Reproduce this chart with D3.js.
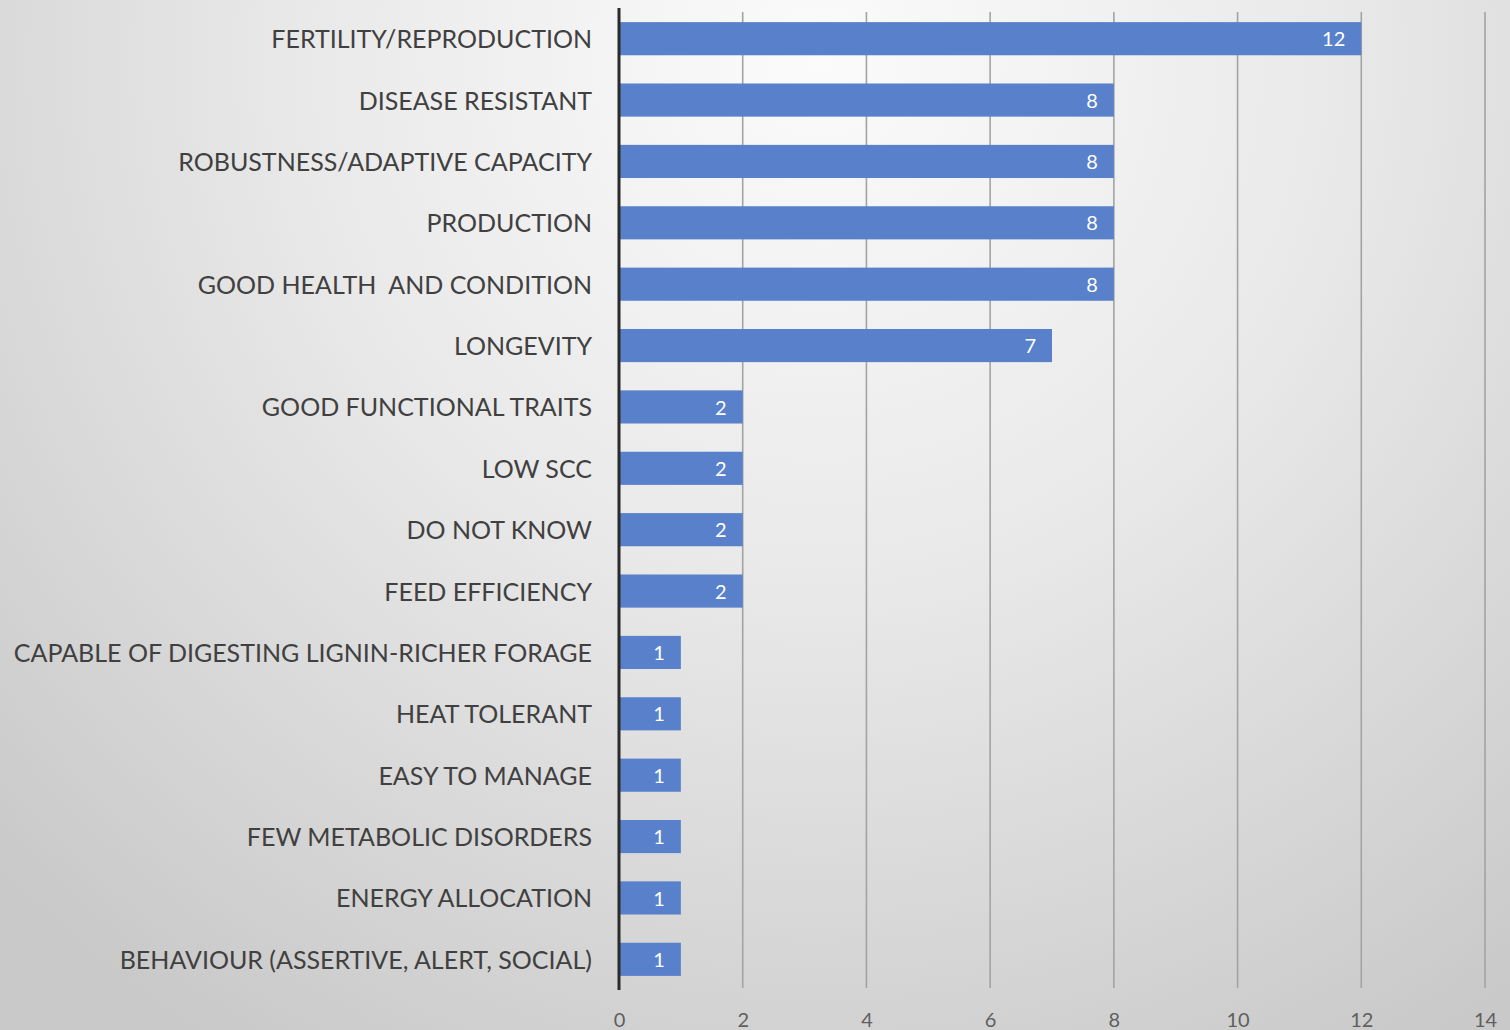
<!DOCTYPE html>
<html>
<head>
<meta charset="utf-8">
<script src="https://cdn.jsdelivr.net/npm/d3@7"></script>
<style>
  html, body { margin: 0; padding: 0; }
  body { width: 1510px; height: 1030px; overflow: hidden; }
  svg { display: block; }
</style>
</head>
<body>
<svg id="chart" width="1510" height="1030"></svg>
<script>
// Reported desired traits and how many respondents named each
const traits = [
  "FERTILITY/REPRODUCTION",
  "DISEASE RESISTANT",
  "ROBUSTNESS/ADAPTIVE CAPACITY",
  "PRODUCTION",
  "GOOD HEALTH  AND CONDITION",
  "LONGEVITY",
  "GOOD FUNCTIONAL TRAITS",
  "LOW SCC",
  "DO NOT KNOW",
  "FEED EFFICIENCY",
  "CAPABLE OF DIGESTING LIGNIN-RICHER FORAGE",
  "HEAT TOLERANT",
  "EASY TO MANAGE",
  "FEW METABOLIC DISORDERS",
  "ENERGY ALLOCATION",
  "BEHAVIOUR (ASSERTIVE, ALERT, SOCIAL)"
];
const counts = [12, 8, 8, 8, 8, 7, 2, 2, 2, 2, 1, 1, 1, 1, 1, 1];
const xTicks = [0, 2, 4, 6, 8, 10, 12, 14];

const W = 1510, H = 1030;
const plotLeft = 619, plotRight = 1485, plotTop = 8, plotBottom = 990;

const svg = d3.select("#chart");
const defs = svg.append("defs");
const bg = defs.append("radialGradient")
  .attr("id", "bgGrad")
  .attr("gradientUnits", "userSpaceOnUse")
  .attr("cx", 820).attr("cy", 60).attr("r", 1150);
bg.append("stop").attr("offset", "0%").attr("stop-color", "#fbfbfb");
bg.append("stop").attr("offset", "45%").attr("stop-color", "#e9e9e9");
bg.append("stop").attr("offset", "100%").attr("stop-color", "#c9c9c9");

svg.append("rect").attr("width", W).attr("height", H).attr("fill", "url(#bgGrad)");

const x = d3.scaleLinear().domain([0, 14]).range([plotLeft, plotRight]);
const y = d3.scaleBand().domain(traits).range([plotTop, plotBottom]).paddingInner(0.46).paddingOuter(0.23);

// vertical gridlines
svg.append("g")
  .selectAll("line")
  .data(xTicks.filter(t => t > 0))
  .join("line")
  .attr("x1", d => x(d)).attr("x2", d => x(d))
  .attr("y1", 12).attr("y2", 988)
  .attr("stroke", "#a3a3a3")
  .attr("stroke-width", 1.6);

// x axis tick labels
const xAxis = d3.axisBottom(x).tickValues(xTicks).tickSize(0).tickPadding(0);
const gx = svg.append("g").attr("transform", `translate(0,${plotBottom + 20})`).call(xAxis);
gx.select(".domain").remove();
gx.selectAll("text")
  .attr("font-family", "Lato, 'Open Sans', sans-serif")
  .attr("font-size", 20)
  .attr("fill", "#5f5f5f")
  .attr("dy", "0.85em");

// bars
svg.append("g")
  .selectAll("rect")
  .data(traits)
  .join("rect")
  .attr("x", x(0))
  .attr("y", d => y(d))
  .attr("width", (d, i) => x(counts[i]) - x(0))
  .attr("height", y.bandwidth())
  .attr("fill", "#5880cb");

// value labels inside bar ends
svg.append("g")
  .selectAll("text")
  .data(traits)
  .join("text")
  .attr("x", (d, i) => x(counts[i]) - 16)
  .attr("y", d => y(d) + y.bandwidth() / 2)
  .attr("dy", "0.38em")
  .attr("text-anchor", "end")
  .attr("font-family", "Lato, 'Open Sans', sans-serif")
  .attr("font-size", 20)
  .attr("fill", "#ffffff")
  .text((d, i) => counts[i]);

// category labels
const yAxis = d3.axisLeft(y).tickSize(0).tickPadding(27);
const gy = svg.append("g").attr("transform", `translate(${plotLeft},0)`).call(yAxis);
gy.select(".domain").remove();
gy.selectAll("text")
  .attr("font-family", "Lato, 'Open Sans', sans-serif")
  .attr("font-size", 25)
  .attr("fill", "#404040")
  .attr("dy", "0.38em")
  .style("white-space", "pre");

// vertical axis line
svg.append("line")
  .attr("x1", plotLeft).attr("x2", plotLeft)
  .attr("y1", plotTop).attr("y2", plotBottom)
  .attr("stroke", "#2b2b2b")
  .attr("stroke-width", 3);
</script>
</body>
</html>
